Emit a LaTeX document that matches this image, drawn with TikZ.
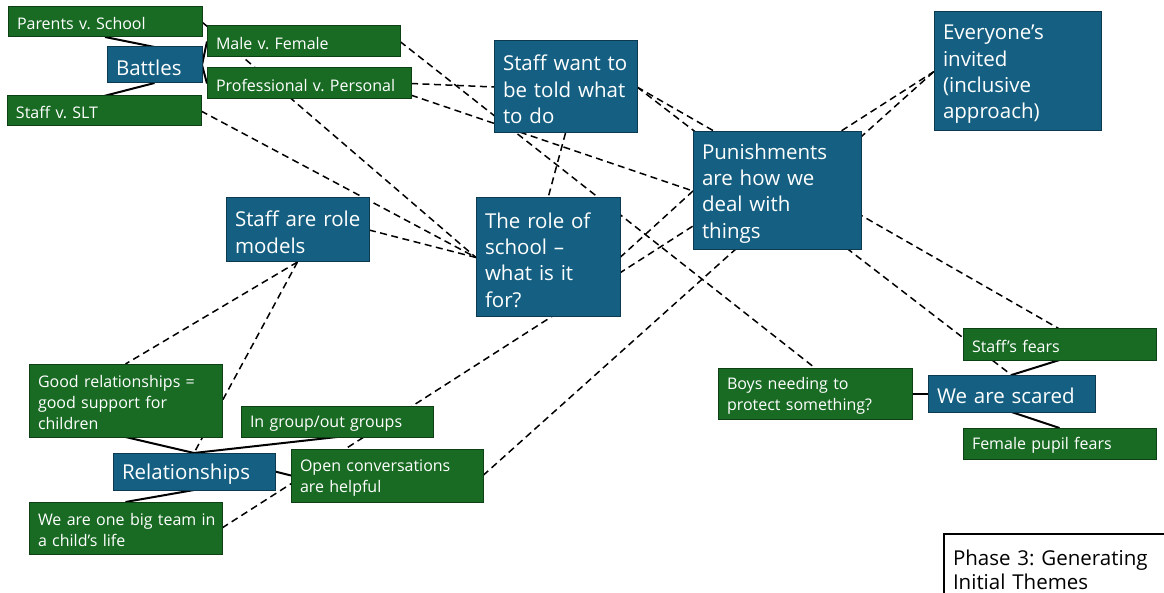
\documentclass[tikz,border=0pt]{standalone}
\usepackage{fontspec}
\setmainfont{Open Sans}
\frenchspacing
\usetikzlibrary{calc}
\definecolor{themeblue}{HTML}{156082}
\definecolor{themeblueedge}{HTML}{0C3A50}
\definecolor{themegreen}{HTML}{196B24}
\definecolor{themegreenedge}{HTML}{0E4015}
\pgfdeclarelayer{paper}
\pgfdeclarelayer{links}
\pgfsetlayers{paper,links,main}

\begin{document}
\begin{tikzpicture}[x=1pt,y=-1pt,
  cardbox/.style={draw, line width=1pt, text=white, anchor=north west,
    inner xsep=9pt, inner ysep=0pt, outer sep=0pt, align=left,
    execute at begin node={\leavevmode\rule{0pt}{1em}}},
  themebox/.style={cardbox, draw=themeblueedge, fill=themeblue,
    font=\fontsize{20.5}{26.3}\selectfont},
  codebox/.style={cardbox, draw=themegreenedge, fill=themegreen,
    font=\fontsize{16}{21}\selectfont},
  tieline/.style={draw=black, line width=2pt},
  dashlink/.style={draw=black, line width=1.5pt, dash pattern=on 7pt off 4.5pt},
]
\path[use as bounding box] (0,0) rectangle (1164,593);
\clip (0,0) rectangle (1164,593);
\begin{pgfonlayer}{paper}
  \fill[white] (0,0) rectangle (1164,593);
\end{pgfonlayer}

% --- Battles cluster
\node[codebox, minimum width=194, minimum height=30, text width=176] (pvs) at (8,7) {Parents v. School};
\node[codebox, minimum width=193, minimum height=31, text width=175] (mvf) at (207,26) {Male v. Female};
\node[codebox, minimum width=204, minimum height=31, text width=186] (pvp) at (207,68) {Professional v. Personal};
\node[codebox, minimum width=194, minimum height=30, text width=176] (svs) at (7,96) {Staff v. SLT};
\node[themebox, minimum width=95, minimum height=36, text width=77] (battles) at (107,47) {Battles};

% --- central themes
\node[themebox, minimum width=143, minimum height=92, text width=125] (told) at (494,41)
  {Staff~want~to\\be~told~what\\to~do};
\node[themebox, minimum width=167, minimum height=119, text width=149] (everyone) at (934,12)
  {Everyone’s\\invited\\(inclusive\\approach)};
\node[themebox, minimum width=168, minimum height=118, text width=150] (punish) at (693,132)
  {Punishments\\are~how~we\\deal~with\\things};
\node[themebox, minimum width=143, minimum height=64, text width=125] (models) at (226,198)
  {Staff~are~role\\models};
\node[themebox, minimum width=144, minimum height=119, text width=126] (school) at (476,198)
  {The~role~of\\school~–\\what~is~it\\for?};

% --- Relationships cluster
\node[codebox, minimum width=193, minimum height=73, text width=175] (goodrel) at (29,364)
  {Good~relationships~=\\good~support~for\\children};
\node[codebox, minimum width=192, minimum height=31, text width=174] (ingroup) at (241,406) {In group/out groups};
\node[themebox, minimum width=162, minimum height=37, text width=144] (relations) at (113,453) {Relationships};
\node[codebox, minimum width=192, minimum height=53, text width=174] (openconv) at (291,449)
  {Open~conversations\\are~helpful};
\node[codebox, minimum width=193, minimum height=52, text width=175] (oneteam) at (29,502)
  {We~are~one~big~team~in\\a~child’s~life};

% --- We are scared cluster
\node[codebox, minimum width=194, minimum height=51, text width=176] (boys) at (718,368)
  {Boys~needing~to\\protect~something?};
\node[themebox, minimum width=167, minimum height=37, text width=149] (scared) at (928,375) {We are scared};
\node[codebox, minimum width=193, minimum height=31, text width=175] (stafffears) at (963,329) {Staff’s fears};
\node[codebox, minimum width=193, minimum height=31, text width=175] (femalefears) at (963,428) {Female pupil fears};

% --- phase label
\node[draw=black, line width=1.3pt, fill=white, anchor=north west, outer sep=0pt,
  inner xsep=9pt, inner ysep=15.5pt, text width=250, align=left,
  font=\fontsize{20.5}{24}\selectfont] (phase) at (944,534)
  {Phase 3: Generating\\Initial Themes};

\begin{pgfonlayer}{links}
  % solid ties between a theme and its codes
  \draw[tieline] (pvs.south) -- (battles.north);
  \draw[tieline] (svs.north) -- (battles.south);
  \draw[tieline] (battles.east) -- (mvf.west);
  \draw[tieline] (battles.east) -- (pvp.west);
  \draw[tieline] (goodrel.south) -- (relations.north);
  \draw[tieline] (ingroup.south) -- (relations.north);
  \draw[tieline] (relations.east) -- (openconv.west);
  \draw[tieline] (relations.south) -- (oneteam.north);
  \draw[tieline] (boys.east) -- (scared.west);
  \draw[tieline] (scared.north) -- (stafffears.south);
  \draw[tieline] (scared.south) -- (femalefears.north);
  % dashed cross-links
  \draw[dashlink] (pvs.east) -- (school.west);
  \draw[dashlink] (mvf.east) -- (boys.north);
  \draw[dashlink] (pvp.east) -- (told.west);
  \draw[dashlink] ($(pvp.east)!0.75!(pvp.south east)$) -- (punish.west);
  \draw[dashlink] (svs.east) -- (school.west);
  \draw[dashlink] (models.east) -- (school.west);
  \draw[dashlink] (models.south) -- (goodrel.north);
  \draw[dashlink] (models.south) -- (relations.north);
  \draw[dashlink] (told.south) -- (school.north);
  \draw[dashlink] (told.east) -- (stafffears.north);
  \draw[dashlink] (told.east) -- (scared.north);
  \draw[dashlink] (school.east) -- (punish.west);
  \draw[dashlink] (oneteam.east) -- (everyone.west);
  \draw[dashlink] (openconv.east) -- (everyone.west);
\end{pgfonlayer}
\end{tikzpicture}
\end{document}
